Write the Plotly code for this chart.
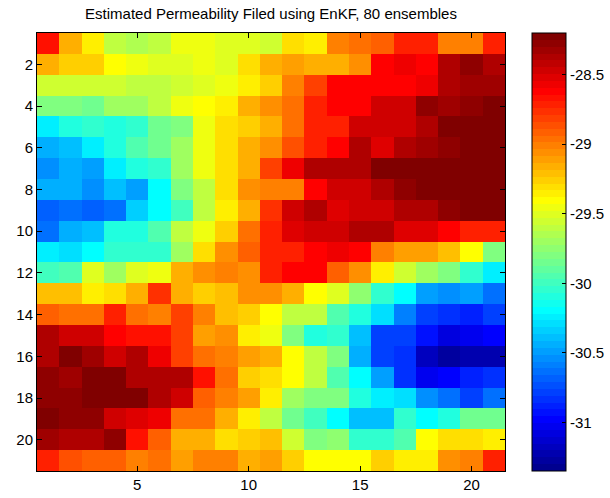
import plotly.graph_objects as go

# Estimated log-permeability field (21 x 21 grid), row 1 at the top
rows = [
    [-28.67, -29.15, -29.37, -29.59, -29.65, -29.59, -29.46, -29.46, -29.52, -29.49, -29.55, -29.30, -29.37, -29.02, -28.96, -28.92, -28.74, -28.74, -28.99, -28.99, -28.74],
    [-29.15, -29.27, -29.27, -29.43, -29.46, -29.52, -29.52, -29.46, -29.49, -29.30, -29.15, -29.11, -29.18, -29.15, -29.05, -28.64, -28.55, -28.64, -28.39, -28.26, -28.39],
    [-29.55, -29.55, -29.55, -29.55, -29.62, -29.59, -29.55, -29.52, -29.46, -29.37, -29.27, -28.99, -28.80, -28.61, -28.61, -28.61, -28.64, -28.55, -28.39, -28.33, -28.33],
    [-29.81, -29.81, -29.87, -29.71, -29.71, -29.62, -29.46, -29.40, -29.37, -29.18, -29.05, -28.96, -28.74, -28.64, -28.64, -28.45, -28.45, -28.26, -28.33, -28.26, -28.21],
    [-30.22, -30.09, -30.03, -30.09, -30.03, -29.84, -29.78, -29.46, -29.30, -29.24, -29.15, -28.96, -28.74, -28.74, -28.48, -28.45, -28.45, -28.39, -28.22, -28.21, -28.21],
    [-30.44, -30.37, -30.22, -30.09, -29.96, -29.84, -29.68, -29.46, -29.33, -29.18, -29.05, -28.86, -28.70, -28.64, -28.39, -28.52, -28.39, -28.33, -28.26, -28.21, -28.21],
    [-30.56, -30.44, -30.47, -30.22, -30.09, -30.03, -29.68, -29.46, -29.30, -29.15, -28.80, -28.59, -28.39, -28.39, -28.39, -28.21, -28.22, -28.22, -28.21, -28.21, -28.21],
    [-30.44, -30.44, -30.56, -30.41, -30.47, -30.18, -29.81, -29.59, -29.30, -29.05, -28.99, -28.99, -28.61, -28.45, -28.45, -28.39, -28.26, -28.21, -28.21, -28.21, -28.21],
    [-30.69, -30.63, -30.69, -30.66, -30.34, -30.17, -30.00, -29.62, -29.38, -29.18, -28.77, -28.45, -28.39, -28.52, -28.45, -28.45, -28.39, -28.39, -28.29, -28.21, -28.21],
    [-30.63, -30.44, -30.41, -30.09, -30.09, -29.93, -29.62, -29.46, -29.27, -28.96, -28.70, -28.52, -28.48, -28.48, -28.36, -28.36, -28.52, -28.52, -28.64, -28.74, -28.74],
    [-30.22, -30.28, -30.18, -30.03, -30.03, -30.03, -29.68, -29.33, -29.05, -28.92, -28.74, -28.74, -28.61, -28.55, -28.64, -29.02, -29.11, -29.11, -29.21, -29.40, -29.78],
    [-30.00, -29.93, -29.49, -29.71, -29.52, -29.46, -29.18, -29.05, -28.99, -29.05, -28.74, -28.64, -28.61, -28.92, -29.08, -29.38, -29.55, -29.68, -29.81, -30.06, -30.22],
    [-29.21, -29.21, -29.37, -29.30, -29.15, -28.77, -29.15, -29.24, -29.21, -29.05, -29.05, -29.15, -29.43, -29.52, -29.74, -30.03, -30.17, -30.47, -30.53, -30.50, -30.63],
    [-28.92, -28.96, -28.96, -28.70, -28.96, -28.99, -28.83, -28.99, -29.21, -29.24, -29.43, -29.59, -29.62, -29.96, -30.09, -30.28, -30.59, -30.78, -30.81, -30.88, -30.78],
    [-28.36, -28.45, -28.48, -28.61, -28.67, -28.67, -28.83, -29.11, -29.08, -29.37, -29.46, -29.81, -30.09, -30.03, -30.41, -30.78, -30.78, -30.91, -31.07, -31.04, -30.97],
    [-28.36, -28.21, -28.33, -28.45, -28.39, -28.55, -28.83, -28.96, -29.02, -29.11, -29.15, -29.43, -29.62, -29.81, -30.44, -30.78, -30.85, -31.19, -31.26, -31.22, -31.22],
    [-28.29, -28.33, -28.21, -28.21, -28.36, -28.39, -28.39, -28.67, -28.96, -29.27, -29.33, -29.43, -29.62, -29.93, -30.18, -30.50, -30.81, -31.04, -30.97, -30.88, -30.85],
    [-28.26, -28.26, -28.23, -28.23, -28.21, -28.39, -28.48, -28.92, -29.02, -29.11, -29.38, -29.71, -29.81, -29.81, -30.09, -30.25, -30.31, -30.53, -30.63, -30.78, -30.63],
    [-28.21, -28.26, -28.26, -28.48, -28.52, -28.55, -28.96, -28.96, -29.15, -29.38, -29.59, -29.87, -30.00, -30.17, -30.41, -30.41, -30.06, -30.17, -30.09, -29.84, -29.84],
    [-28.33, -28.39, -28.39, -28.29, -28.67, -28.92, -29.15, -29.18, -29.33, -29.24, -29.21, -29.55, -29.78, -29.74, -30.03, -30.06, -29.93, -29.43, -29.33, -29.33, -29.37],
    [-28.74, -28.86, -28.89, -28.89, -28.99, -28.96, -29.11, -28.99, -29.02, -29.18, -29.11, -29.24, -29.40, -29.43, -29.43, -29.27, -29.38, -29.37, -29.08, -28.99, -28.70],
]
cols = list(range(1, 22))
row_ids = list(range(1, 22))

z_min, z_max = -31.35, -28.2
cbar_ticks = [-31, -30.5, -30, -29.5, -29, -28.5]
cbar_labels = ["-31", "-30.5", "-30", "-29.5", "-29", "-28.5"]
x_ticks = [5, 10, 15, 20]
y_ticks = [2, 4, 6, 8, 10, 12, 14, 16, 18, 20]


def jet64():
    """Classic 64-level jet palette as a stepped Plotly colorscale."""
    n = 64
    cols_rgb = []
    for i in range(n):
        x = (i + 1) / n * 4  # 0..4
        r = min(max(min(x - 1.5, -x + 4.5), 0), 1)
        g = min(max(min(x - 0.5, -x + 3.5), 0), 1)
        b = min(max(min(x + 0.5, -x + 2.5), 0), 1)
        cols_rgb.append("rgb(%d,%d,%d)" % (round(r * 255), round(g * 255), round(b * 255)))
    scale = []
    for i, c in enumerate(cols_rgb):
        scale.append([i / n, c])
        scale.append([(i + 1) / n, c])
    return scale


font_family = "Liberation Sans, Arial, sans-serif"
label_size = 15

fig = go.Figure(
    go.Heatmap(
        z=rows,
        x=cols,
        y=row_ids,
        zmin=z_min,
        zmax=z_max,
        colorscale=jet64(),
        xgap=0,
        ygap=0,
        colorbar=dict(
            x=1.058,
            xanchor="left",
            y=0.5,
            yanchor="middle",
            len=1.0,
            lenmode="fraction",
            thickness=34,
            thicknessmode="pixels",
            outlinecolor="black",
            outlinewidth=1,
            tickvals=cbar_ticks,
            ticktext=cbar_labels,
            ticks="inside",
            ticklen=4,
            tickcolor="black",
            tickfont=dict(family=font_family, size=label_size, color="black"),
            xpad=0,
            ypad=0,
        ),
    )
)

axis_font = dict(family=font_family, size=label_size, color="black")
common_axis = dict(
    ticks="inside",
    ticklen=5,
    tickcolor="black",
    showline=True,
    linecolor="black",
    linewidth=1,
    mirror="ticks",
    showgrid=False,
    zeroline=False,
    tickfont=axis_font,
    automargin=False,
)

fig.update_layout(
    width=610,
    height=498,
    margin=dict(l=37, r=105, t=33, b=27, autoexpand=False),
    paper_bgcolor="white",
    plot_bgcolor="white",
    title=dict(
        text="Estimated Permeability Filed using EnKF, 80 ensembles",
        x=271 / 610,
        xanchor="center",
        y=1 - 14 / 498,
        yanchor="middle",
        font=dict(family=font_family, size=label_size, color="black"),
    ),
    xaxis=dict(range=[0.5, 21.5], tickvals=x_ticks, **common_axis),
    yaxis=dict(range=[21.5, 0.5], tickvals=y_ticks, **common_axis),
)

fig.write_html("out.html")
